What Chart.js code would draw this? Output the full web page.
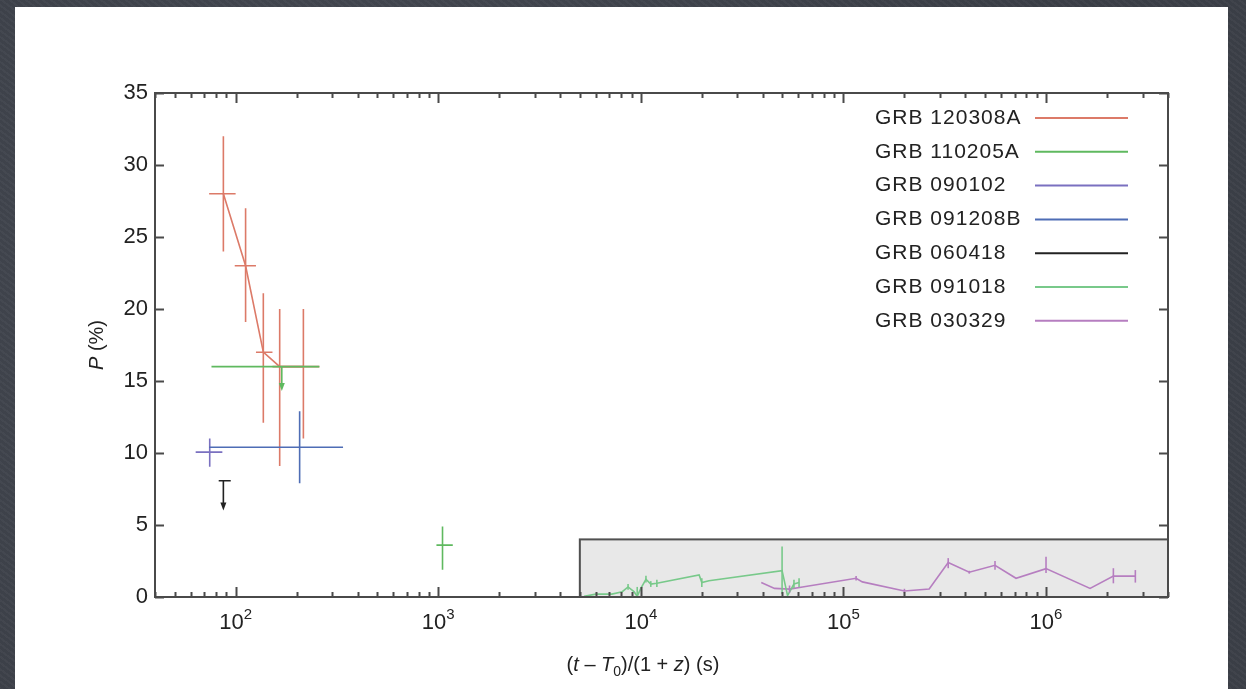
<!DOCTYPE html>
<html>
<head>
<meta charset="utf-8">
<title>GRB afterglow polarization</title>
<script src="https://cdn.jsdelivr.net/npm/chart.js@4.4.1/dist/chart.umd.min.js"></script>
<style>
  html, body { margin: 0; padding: 0; }
  body {
    width: 1246px; height: 689px; overflow: hidden; position: relative;
    background: #3f434b;
    background-image:
      repeating-linear-gradient(37deg, rgba(255,255,255,0.025) 0 2px, rgba(0,0,0,0.03) 2px 5px),
      radial-gradient(circle at 30% 40%, #474b54 0%, #3c4048 70%);
  }
  #sheet { position: absolute; left: 15px; top: 7px; width: 1213px; height: 682px; background: #fff; }
  #wrap { position: absolute; left: 0; top: 0; width: 1246px; height: 689px; }
</style>
</head>
<body>
<div id="sheet"></div>
<div id="wrap"><canvas id="polChart" width="1246" height="689"></canvas></div>
<script>
const FONT = "'Liberation Sans', Arial, Helvetica, sans-serif";
const TEXT = "#222";

// series names, in legend order
const seriesNames = ["GRB 120308A", "GRB 110205A", "GRB 090102", "GRB 091208B",
                     "GRB 060418", "GRB 091018", "GRB 030329"];
const seriesColors = ["#dc7a68", "#5fb95f", "#7a70c0", "#4e6db5", "#222222", "#78c98a", "#b67ec0"];

// rest-frame time (s), polarization (%) and error ranges
const grb120308aT   = [87, 112, 137, 165, 216];
const grb120308aTLo = [74, 99, 126, 152, 165];
const grb120308aTHi = [100, 126, 152, 165, 259];
const grb120308aP   = [28, 23, 17, 16, 16];
const grb120308aPLo = [24, 19.1, 12.1, 9.1, 11];
const grb120308aPHi = [32, 27, 21.1, 20, 20];

// first entry is an upper limit (arrow down to PLo)
const grb110205aT   = [169, 1050];
const grb110205aTLo = [76, 980];
const grb110205aTHi = [259, 1180];
const grb110205aP   = [16, 3.6];
const grb110205aPLo = [14.3, 1.9];
const grb110205aPHi = [16, 4.9];
const grb110205aLimit = [true, false];

const grb090102T   = [74.5];
const grb090102TLo = [63.5];
const grb090102THi = [86];
const grb090102P   = [10.06];
const grb090102PLo = [9.05];
const grb090102PHi = [11.0];

const grb091208bT   = [207];
const grb091208bTLo = [74];
const grb091208bTHi = [339];
const grb091208bP   = [10.4];
const grb091208bPLo = [7.9];
const grb091208bPHi = [12.9];

// upper limit
const grb060418T   = [87];
const grb060418TLo = [82.5];
const grb060418THi = [94.6];
const grb060418P   = [8.07];
const grb060418PLo = [6.0];
const grb060418Limit = [true];

const grb091018T   = [5250, 6000, 7200, 8100, 8650, 9250, 9600, 10000, 10600, 11200, 12000,
                      19400, 20000, 21700, 49800, 53000, 57000, 60400];
const grb091018P   = [0.05, 0.2, 0.2, 0.37, 0.7, 0.37, 0.05, 0.6, 1.23, 0.9, 0.95,
                      1.53, 1.0, 1.13, 1.83, 0.1, 0.9, 1.0];
const grb091018PLo = [null, null, null, null, 0.5, null, 0, null, 1.0, 0.7, 0.7,
                      null, 0.7, null, 0.2, null, 0.6, 0.7];
const grb091018PHi = [null, null, null, null, 0.9, null, 0.7, null, 1.48, 1.1, 1.2,
                      null, 1.3, null, 3.5, null, 1.2, 1.3];

const grb030329T   = [39300, 45700, 54200, 62800, 115500, 124000, 200000, 265000, 329000,
                      418000, 560000, 711000, 1000000, 1650000, 2150000, 2760000];
const grb030329P   = [1.0, 0.6, 0.55, 0.7, 1.3, 1.05, 0.42, 0.55, 2.4,
                      1.72, 2.2, 1.3, 1.97, 0.6, 1.45, 1.45];
const grb030329PLo = [null, null, 0.3, null, 1.15, null, 0.27, null, 2.0,
                      1.62, 1.9, null, 1.67, null, 0.95, 1.0];
const grb030329PHi = [null, null, 0.8, null, 1.45, null, 0.57, null, 2.7,
                      1.82, 2.5, null, 2.8, null, 2.0, 1.87];

// shaded late-time region
const boxTStart = 5000;
const boxPTop = 4;

// axes
const xMin = 40, xMax = 4e6;
const yMin = 0, yMax = 35, yStep = 5;
const xTickValues = [1e2, 1e3, 1e4, 1e5, 1e6];
const xTickExps = ["2", "3", "4", "5", "6"];

function makePoints(t, p, tLo, tHi, pLo, pHi, limit) {
  return t.map((x, i) => ({
    x: x, y: p[i],
    xMin: tLo ? tLo[i] : null, xMax: tHi ? tHi[i] : null,
    yMin: pLo ? pLo[i] : null, yMax: pHi ? pHi[i] : null,
    limit: limit ? limit[i] : false
  }));
}

const seriesPoints = [
  makePoints(grb120308aT, grb120308aP, grb120308aTLo, grb120308aTHi, grb120308aPLo, grb120308aPHi),
  makePoints(grb110205aT, grb110205aP, grb110205aTLo, grb110205aTHi, grb110205aPLo, grb110205aPHi, grb110205aLimit),
  makePoints(grb090102T, grb090102P, grb090102TLo, grb090102THi, grb090102PLo, grb090102PHi),
  makePoints(grb091208bT, grb091208bP, grb091208bTLo, grb091208bTHi, grb091208bPLo, grb091208bPHi),
  makePoints(grb060418T, grb060418P, grb060418TLo, grb060418THi, grb060418PLo, null, grb060418Limit),
  makePoints(grb091018T, grb091018P, null, null, grb091018PLo, grb091018PHi),
  makePoints(grb030329T, grb030329P, null, null, grb030329PLo, grb030329PHi)
];

const datasets = seriesNames.map((name, i) => ({
  label: name,
  data: seriesPoints[i],
  borderColor: seriesColors[i],
  backgroundColor: seriesColors[i],
  borderWidth: 1.6,
  pointRadius: 0,
  tension: 0,
  fill: false,
  showLine: i !== 1
}));

// shaded box, error bars, frame, ticks and labels
const decorations = {
  id: "decorations",
  beforeDatasetsDraw(chart) {
    const { ctx, chartArea: a, scales: { x, y } } = chart;
    const left = x.getPixelForValue(boxTStart);
    const top = y.getPixelForValue(boxPTop);
    ctx.save();
    ctx.fillStyle = "#e8e8e8";
    ctx.fillRect(left, top, a.right - left, a.bottom - top);
    ctx.strokeStyle = "#505050";
    ctx.lineWidth = 2;
    ctx.strokeRect(left, top, a.right - left, a.bottom - top);
    ctx.restore();
  },
  afterDatasetsDraw(chart) {
    const { ctx, scales: { x, y } } = chart;
    chart.data.datasets.forEach((ds, i) => {
      ctx.save();
      ctx.strokeStyle = ds.borderColor;
      ctx.fillStyle = ds.borderColor;
      ctx.lineWidth = 1.6;
      ds.data.forEach(pt => {
        const px = x.getPixelForValue(pt.x);
        const py = y.getPixelForValue(pt.y);
        ctx.beginPath();
        if (pt.xMin != null) {
          ctx.moveTo(x.getPixelForValue(pt.xMin), py);
          ctx.lineTo(x.getPixelForValue(pt.xMax), py);
        }
        if (pt.limit) {
          const tip = y.getPixelForValue(pt.yMin);
          ctx.moveTo(px, py);
          ctx.lineTo(px, tip - 6);
          ctx.stroke();
          ctx.beginPath();
          ctx.moveTo(px - 3, tip - 8);
          ctx.lineTo(px + 3, tip - 8);
          ctx.lineTo(px, tip);
          ctx.closePath();
          ctx.fill();
          return;
        }
        if (pt.yMin != null) {
          ctx.moveTo(px, y.getPixelForValue(pt.yMin));
          ctx.lineTo(px, y.getPixelForValue(pt.yMax));
        }
        ctx.stroke();
      });
      ctx.restore();
    });
  },
  afterDraw(chart) {
    const { ctx, chartArea: a, scales: { x, y } } = chart;
    ctx.save();
    ctx.strokeStyle = "#4a4a4a";
    ctx.lineWidth = 2;
    ctx.strokeRect(a.left, a.top, a.right - a.left, a.bottom - a.top);

    // inward log ticks on bottom and top
    ctx.beginPath();
    for (let e = 1; e <= 6; e++) {
      for (let m = 1; m <= 9; m++) {
        const v = m * Math.pow(10, e);
        if (v < xMin || v > xMax) continue;
        const px = Math.round(x.getPixelForValue(v)) + 0.5;
        const len = m === 1 ? 10 : 5;
        ctx.moveTo(px, a.bottom); ctx.lineTo(px, a.bottom - len);
        ctx.moveTo(px, a.top); ctx.lineTo(px, a.top + len);
      }
    }
    for (let v = yMin; v <= yMax; v += yStep) {
      const py = Math.round(y.getPixelForValue(v)) + 0.5;
      ctx.moveTo(a.left, py); ctx.lineTo(a.left + 9, py);
      ctx.moveTo(a.right, py); ctx.lineTo(a.right - 9, py);
    }
    ctx.stroke();

    // decade labels 10^n
    ctx.fillStyle = TEXT;
    ctx.textBaseline = "alphabetic";
    xTickValues.forEach((v, i) => {
      const px = x.getPixelForValue(v);
      ctx.font = "22px " + FONT;
      const wBase = ctx.measureText("10").width;
      ctx.font = "15px " + FONT;
      const wExp = ctx.measureText(xTickExps[i]).width;
      const start = px - (wBase + wExp) / 2;
      ctx.font = "22px " + FONT;
      ctx.textAlign = "left";
      ctx.fillText("10", start, 629);
      ctx.font = "15px " + FONT;
      ctx.fillText(xTickExps[i], start + wBase, 619);
    });

    // x axis title with italic symbols
    const parts = [["(", ""], ["t", "italic "], [" \u2013 ", ""], ["T", "italic "], ["0", "sub"],
                   [")/(1 + ", ""], ["z", "italic "], [") (s)", ""]];
    const fontFor = s => s === "sub" ? "14px " + FONT : s + "20px " + FONT;
    let total = 0;
    parts.forEach(([t, s]) => { ctx.font = fontFor(s); total += ctx.measureText(t).width; });
    let cx = 643 - total / 2;
    parts.forEach(([t, s]) => {
      ctx.font = fontFor(s);
      ctx.fillText(t, cx, s === "sub" ? 676 : 671);
      cx += ctx.measureText(t).width;
    });

    // y axis title
    ctx.save();
    ctx.translate(103, (a.top + a.bottom) / 2);
    ctx.rotate(-Math.PI / 2);
    ctx.font = "italic 20px " + FONT;
    const wP = ctx.measureText("P").width;
    ctx.font = "20px " + FONT;
    const wRest = ctx.measureText(" (%)").width;
    ctx.font = "italic 20px " + FONT;
    ctx.fillText("P", -(wP + wRest) / 2, 0);
    ctx.font = "20px " + FONT;
    ctx.fillText(" (%)", -(wP + wRest) / 2 + wP, 0);
    ctx.restore();

    // legend: name on the left, line sample on the right
    ctx.textBaseline = "middle";
    ctx.font = "21px " + FONT;
    ctx.letterSpacing = "1px";
    chart.data.datasets.forEach((ds, i) => {
      const rowY = 118 + i * 33.8;
      ctx.fillStyle = TEXT;
      ctx.fillText(ds.label, 875, rowY);
      ctx.strokeStyle = ds.borderColor;
      ctx.lineWidth = 2;
      ctx.beginPath();
      ctx.moveTo(1035, rowY); ctx.lineTo(1128, rowY);
      ctx.stroke();
    });
    ctx.restore();
  }
};

new Chart(document.getElementById("polChart"), {
  type: "line",
  data: { datasets: datasets },
  options: {
    responsive: false,
    animation: false,
    layout: { padding: { left: 0, right: 78, top: 93, bottom: 92 } },
    plugins: { legend: { display: false }, tooltip: { enabled: false } },
    scales: {
      x: {
        type: "logarithmic",
        min: xMin, max: xMax,
        grid: { display: false, drawTicks: false },
        border: { display: false },
        ticks: { display: false },
        afterFit(scale) { scale.height = 0; }
      },
      y: {
        min: yMin, max: yMax,
        grid: { display: false, drawTicks: false },
        border: { display: false },
        ticks: { stepSize: yStep, color: TEXT, padding: 7, font: { family: FONT, size: 22 } },
        afterFit(scale) { scale.width = 155; }
      }
    }
  },
  plugins: [decorations]
});
</script>
</body>
</html>
